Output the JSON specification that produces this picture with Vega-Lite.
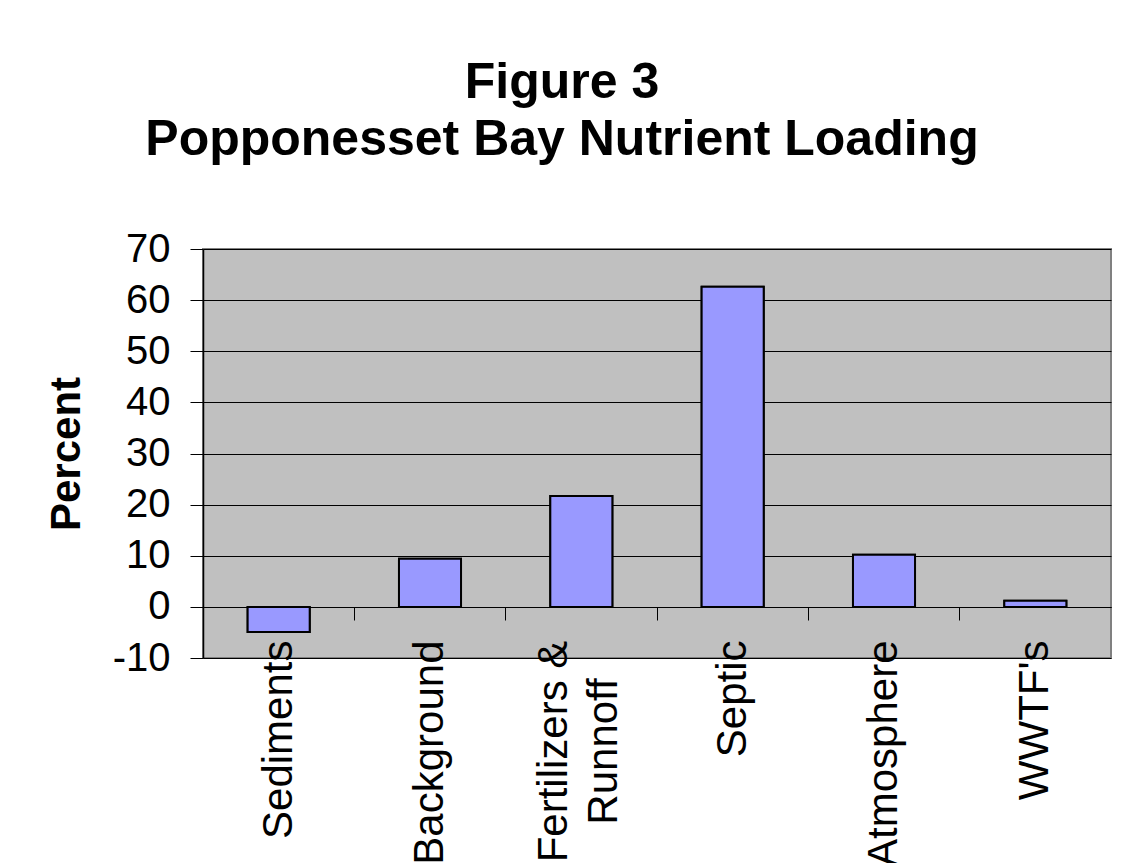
{
  "$schema": "https://vega.github.io/schema/vega-lite/v6.json",
  "width": 908,
  "height": 409,
  "autosize": {"type": "none"},
  "padding": {"left": 203, "top": 249, "right": 12, "bottom": 205},
  "background": "white",
  "title": {
    "text": ["Figure 3", "Popponesset Bay Nutrient Loading"],
    "font": "Liberation Sans",
    "fontSize": 50,
    "fontWeight": "bold",
    "color": "black",
    "anchor": "middle",
    "frame": "group",
    "dx": -95,
    "lineHeight": 57,
    "offset": 64
  },
  "data": {
    "values": [
      {"source": "Sediments", "percent": -4.9},
      {"source": "Background", "percent": 9.4},
      {"source": "Fertilizers & Runnoff", "percent": 21.7},
      {"source": "Septic", "percent": 62.6},
      {"source": "Atmosphere", "percent": 10.2},
      {"source": "WWTF's", "percent": 1.2}
    ]
  },
  "encoding": {
    "y": {
      "field": "percent",
      "type": "quantitative",
      "scale": {"domain": [-10, 70], "nice": false, "zero": false},
      "axis": {
        "values": [-10, 0, 10, 20, 30, 40, 50, 60, 70],
        "labelExpr": "'' + datum.value",
        "title": "Percent",
        "titleFont": "Liberation Sans",
        "titleFontSize": 42,
        "titleFontWeight": "bold",
        "titleColor": "black",
        "titlePadding": 24,
        "labelFont": "Liberation Sans",
        "labelFontSize": 40,
        "labelColor": "black",
        "labelPadding": 20,
        "tickSize": 13,
        "tickColor": "black",
        "domainColor": "black",
        "domainWidth": 1.5,
        "grid": true,
        "gridColor": "black",
        "gridWidth": 1,
        "gridOpacity": 1
      }
    }
  },
  "layer": [
    {
      "mark": {"type": "bar", "color": "#9999FF", "stroke": "black", "strokeWidth": 2, "width": {"band": 0.41}},
      "encoding": {
        "x": {
          "field": "source",
          "type": "nominal",
          "sort": null,
          "scale": {"paddingInner": 0, "paddingOuter": 0},
          "axis": {
            "orient": "bottom",
            "offset": -51,
            "bandPosition": 0,
            "labels": false,
            "title": null,
            "grid": false,
            "ticks": true,
            "tickSize": 13,
            "tickColor": "black",
            "domain": true,
            "domainColor": "black",
            "domainWidth": 1
          }
        }
      }
    },
    {
      "mark": {"type": "bar", "color": "#9999FF", "stroke": "black", "strokeWidth": 2, "width": {"band": 0.41}},
      "encoding": {
        "x": {
          "field": "source",
          "type": "nominal",
          "sort": null,
          "axis": {
            "orient": "bottom",
            "offset": 0,
            "title": null,
            "grid": false,
            "ticks": false,
            "domain": false,
            "labelAngle": -90,
            "labelAlign": {"condition": {"test": "datum.label == 'Fertilizers & Runnoff'", "value": "center"}, "value": "right"},
            "labelBaseline": "middle",
            "labelPadding": {"condition": {"test": "datum.label == 'Fertilizers & Runnoff'", "value": 93}, "value": -18},
            "labelFont": "Liberation Sans",
            "labelFontSize": 42,
            "labelColor": "black",
            "labelLimit": 0,
            "labelLineHeight": 50,
            "labelOverlap": false,
            "labelOffset": {"condition": {"test": "datum.label == 'Fertilizers & Runnoff'", "value": -27}, "value": 0},
            "labelExpr": "datum.label == 'Fertilizers & Runnoff' ? ['Fertilizers &', 'Runnoff'] : datum.label"
          }
        }
      }
    }
  ],
  "resolve": {"axis": {"x": "independent"}},
  "config": {
    "view": {"fill": "#C0C0C0", "stroke": "#808080", "strokeWidth": 2}
  }
}
